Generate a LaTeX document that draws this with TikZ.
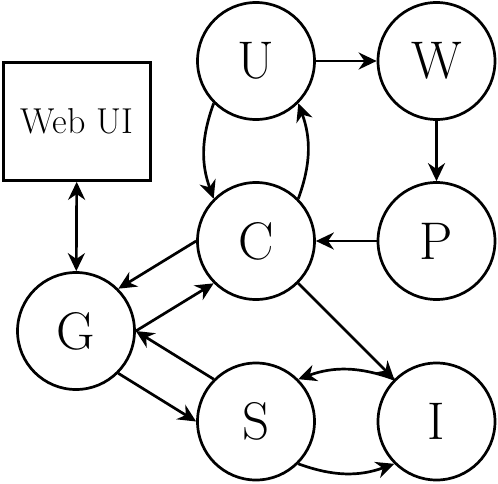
\documentclass[tikz,border=0pt]{standalone}
\usetikzlibrary{arrows.meta}
\begin{document}
\begin{tikzpicture}[x=0.5pt,y=-0.5pt,
  line width=1.35pt,
  state/.style={draw,circle,minimum size=58.5pt,inner sep=0pt,font=\fontsize{26.5}{28}\selectfont},
  box/.style={draw,rectangle,minimum width=73.5pt,minimum height=59pt,inner sep=0pt,font=\fontsize{18}{20}\selectfont},
  tip/.tip={Stealth[length=9pt,width=8.5pt]},
  arr/.style={-tip},
  darr/.style={tip-tip}]
\useasboundingbox (0,0) rectangle (498,483);
\node[state] (U) at (256,61) {U};
\node[state] (W) at (436.5,61) {W};
\node[state] (C) at (256,241) {C};
\node[state] (P) at (436.5,241) {P};
\node[state] (G) at (76,331) {G};
\node[state] (S) at (256,421.5) {S};
\node[state] (I) at (436.5,421.5) {I};
\node[box] (Web) at (77,121.5) {Web UI};
\draw[arr] (U) -- (W);
\draw[arr] (W) -- (P);
\draw[arr] (P) -- (C);
\draw[arr] (U.south west) to[bend right=20] (C.north west);
\draw[arr] (C.north east) to[bend right=20] (U.south east);
\draw[darr] (Web) -- (G);
\draw[arr] (C.west) -- (G.north east);
\draw[arr] (G.east) -- (C.south west);
\draw[arr] (S.north west) -- (G.east);
\draw[arr] (G.south east) -- (S.west);
\draw[arr] (C) -- (I);
\draw[arr] (S.south east) to[bend right=20] (I.south west);
\draw[arr] (I.north west) to[bend right=20] (S.north east);
\end{tikzpicture}
\end{document}
